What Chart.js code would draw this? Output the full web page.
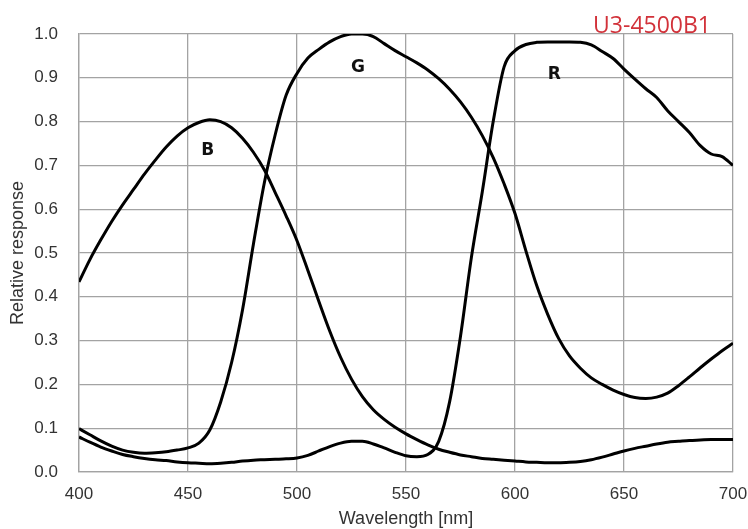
<!DOCTYPE html>
<html>
<head>
<meta charset="utf-8">
<script src="https://cdn.jsdelivr.net/npm/chart.js@4"></script>
<style>
  html, body { margin: 0; padding: 0; background: #fff; }
  #wrap { width: 748px; height: 529px; }
</style>
</head>
<body>
<div id="wrap"><canvas id="myChart" width="748" height="529"></canvas></div>
<script>
const wavelengths = [400,405,410,415,420,425,430,435,440,445,450,455,460,465,470,475,480,485,490,495,
  500,505,510,515,520,525,530,535,540,545,550,555,560,565,570,575,580,585,590,595,
  600,605,610,615,620,625,630,635,640,645,650,655,660,665,670,675,680,685,690,695,700];

const blue = [0.434,0.485,0.53,0.572,0.61,0.645,0.68,0.712,0.742,0.767,0.786,0.798,0.804,0.8,0.786,0.762,0.73,0.69,0.638,0.585,
  0.528,0.46,0.39,0.322,0.262,0.212,0.172,0.142,0.12,0.102,0.087,0.074,0.062,0.052,0.045,0.039,0.035,0.031,0.029,0.027,
  0.025,0.023,0.022,0.021,0.021,0.022,0.024,0.028,0.034,0.041,0.048,0.054,0.059,0.064,0.068,0.07,0.072,0.073,0.074,0.074,0.074];

const green = [0.099,0.085,0.071,0.059,0.05,0.045,0.043,0.044,0.046,0.05,0.055,0.066,0.096,0.16,0.25,0.37,0.52,0.66,0.77,0.86,
  0.91,0.945,0.965,0.982,0.994,1.0,1.0,0.994,0.978,0.962,0.948,0.934,0.918,0.898,0.874,0.845,0.81,0.768,0.718,0.658,
  0.59,0.505,0.425,0.36,0.305,0.265,0.237,0.215,0.2,0.187,0.177,0.17,0.168,0.171,0.18,0.197,0.217,0.238,0.258,0.277,0.294];

const red = [0.08,0.068,0.057,0.048,0.04,0.035,0.031,0.028,0.026,0.023,0.021,0.02,0.019,0.02,0.022,0.025,0.027,0.028,0.029,0.03,
  0.032,0.038,0.048,0.058,0.066,0.07,0.07,0.064,0.055,0.045,0.037,0.035,0.04,0.07,0.16,0.31,0.49,0.64,0.8,0.925,
  0.962,0.976,0.981,0.982,0.982,0.982,0.981,0.975,0.96,0.944,0.92,0.897,0.875,0.855,0.825,0.8,0.775,0.745,0.726,0.72,0.70];

// curve names and where they sit (wavelength, response)
const curveLabels = [
  { text: "B", x: 459, y: 0.733 },
  { text: "G", x: 528, y: 0.923 },
  { text: "R", x: 618, y: 0.907 }
];
const modelName = "U3-4500B1";

const toPoints = vals => vals.map((v, i) => ({ x: wavelengths[i], y: v }));

const labelPlugin = {
  id: "curveLabels",
  afterDatasetsDraw(chart) {
    const { ctx, scales, chartArea } = chart;
    ctx.save();
    ctx.fillStyle = "#111";
    ctx.font = "bold 17px 'DejaVu Sans'";
    ctx.textAlign = "center";
    ctx.textBaseline = "middle";
    curveLabels.forEach(l => {
      ctx.fillText(l.text, scales.x.getPixelForValue(l.x), scales.y.getPixelForValue(l.y));
    });
    ctx.fillStyle = "#d2323a";
    ctx.font = "23px 'Open Sans'";
    ctx.textAlign = "right";
    ctx.textBaseline = "alphabetic";
    ctx.fillText(modelName, chartArea.right - 22, chartArea.top - 1);
    ctx.restore();
  }
};

const lineStyle = { borderColor: "#000", borderWidth: 3, pointRadius: 0, cubicInterpolationMode: "monotone", fill: false };

new Chart(document.getElementById("myChart").getContext("2d"), {
  type: "line",
  data: {
    datasets: [
      { label: "B", data: toPoints(blue), ...lineStyle },
      { label: "G", data: toPoints(green), ...lineStyle },
      { label: "R", data: toPoints(red), ...lineStyle }
    ]
  },
  options: {
    responsive: false,
    animation: false,
    layout: { padding: { top: 34, right: 0, left: 0, bottom: 0 } },
    plugins: { legend: { display: false }, tooltip: { enabled: false } },
    scales: {
      x: {
        type: "linear",
        min: 400,
        max: 700,
        afterFit: s => { s.height = 57; s.paddingRight = 15; s.paddingLeft = 0; },
        ticks: { stepSize: 50, padding: 12, color: "#333", font: { family: "'Liberation Sans'", size: 17 } },
        grid: { color: "#a3a3a3", lineWidth: 1.3, drawTicks: false },
        border: { color: "#a3a3a3", width: 1.3 },
        title: { display: true, text: "Wavelength [nm]", color: "#333", font: { family: "'Liberation Sans'", size: 18, lineHeight: 1 }, padding: { top: 0, bottom: 1 } }
      },
      y: {
        min: 0,
        max: 1,
        afterFit: s => { s.width = 79; },
        ticks: { stepSize: 0.1, padding: 21, color: "#333", callback: v => v.toFixed(1), font: { family: "'Liberation Sans'", size: 17 } },
        grid: { color: "#a3a3a3", lineWidth: 1.3, drawTicks: false },
        border: { color: "#a3a3a3", width: 1.3 },
        title: { display: true, text: "Relative response", color: "#333", font: { family: "'Liberation Sans'", size: 18, lineHeight: 1 }, padding: { top: 9, bottom: 0 } }
      }
    }
  },
  plugins: [labelPlugin]
});
</script>
</body>
</html>
